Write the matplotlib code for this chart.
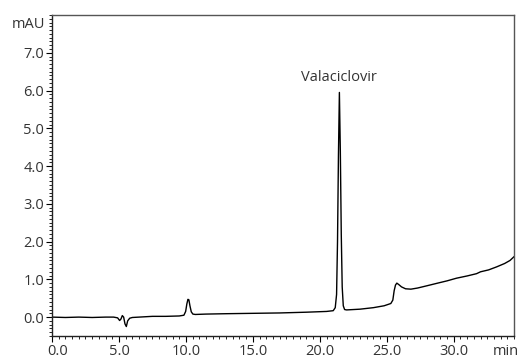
import numpy as np
import matplotlib.pyplot as plt
from matplotlib.ticker import MultipleLocator
import matplotlib.transforms as mtransforms

# ========== 数据 ==========
time_min = [0.0, 1.0, 2.0, 3.0, 4.0, 4.6, 4.9, 5.05, 5.15, 5.25, 5.35, 5.45,
            5.55, 5.65, 5.8, 6.0, 6.5, 7.5, 8.5, 9.5, 9.85, 9.98, 10.07, 10.15,
            10.22, 10.3, 10.4, 10.52, 10.7, 11.5, 13.0, 15.0, 17.0, 19.0, 20.5,
            21.0, 21.15, 21.25, 21.32, 21.39, 21.46, 21.53, 21.6, 21.67, 21.75,
            21.85, 22.0, 23.0, 24.0, 24.8, 25.3, 25.45, 25.55, 25.65, 25.75,
            25.9, 26.1, 26.4, 26.8, 27.3, 28.0, 28.8, 29.5, 30.2, 31.0, 31.7,
            32.0, 32.6, 33.2, 33.8, 34.2, 34.5]
signal_mau = [0.0, -0.01, 0.0, -0.01, 0.0, 0.0, -0.02, -0.09, -0.05, 0.04,
              0.0, -0.18, -0.25, -0.1, -0.03, -0.01, 0.0, 0.02, 0.02, 0.03,
              0.05, 0.15, 0.35, 0.47, 0.46, 0.3, 0.14, 0.08, 0.07, 0.08, 0.09,
              0.1, 0.11, 0.13, 0.15, 0.17, 0.25, 0.6, 2.0, 4.3, 5.95, 4.4, 2.2,
              0.8, 0.3, 0.2, 0.19, 0.21, 0.25, 0.3, 0.36, 0.45, 0.7, 0.85, 0.9,
              0.86, 0.8, 0.75, 0.74, 0.77, 0.83, 0.9, 0.96, 1.03, 1.09, 1.15,
              1.2, 1.25, 1.33, 1.42, 1.5, 1.6]

peak_name = 'Valaciclovir'
peak_time = 21.46
peak_label_y = 6.35

x_ticks = [0, 5, 10, 15, 20, 25, 30]
y_ticks = [0, 1, 2, 3, 4, 5, 6, 7]

# ========== 绘图 ==========
plt.rcParams['font.family'] = ['Open Sans', 'DejaVu Sans']
text_color = '#333333'
fs = 10.5

fig = plt.figure(figsize=(5.2, 3.58), dpi=100)
ax = fig.add_axes([0.1, 0.0615, 0.8885, 0.8965])

ax.plot(time_min, signal_mau, color='black', lw=1.0)

ax.set_xlim(0, 34.5)
ax.set_ylim(-0.5, 8.0)

ax.set_xticks(x_ticks)
ax.set_xticklabels([f'{v:.1f}' for v in x_ticks])
ax.set_yticks(y_ticks)
ax.set_yticklabels([f'{v:.1f}' for v in y_ticks])
ax.xaxis.set_minor_locator(MultipleLocator(0.5))
ax.yaxis.set_minor_locator(MultipleLocator(0.1))

ax.tick_params(axis='both', which='major', direction='out', length=4,
               width=0.8, labelsize=fs, labelcolor=text_color, pad=1.5)
ax.tick_params(axis='both', which='minor', direction='out', length=2,
               width=0.6)

for s in ['left', 'bottom']:
    ax.spines[s].set_color('#222222')
    ax.spines[s].set_linewidth(1.0)
for s in ['top', 'right']:
    ax.spines[s].set_color('#555555')
    ax.spines[s].set_linewidth(1.0)

# 第一个刻度标签稍向右
lab0 = ax.get_xticklabels()[0]
lab0.set_transform(lab0.get_transform() +
                   mtransforms.ScaledTranslation(6 / 100, 0, fig.dpi_scale_trans))

ax.text(peak_time, peak_label_y, peak_name, ha='center', va='center',
        fontsize=fs, color=text_color)

fig.text(45 / 520, 1 - 24 / 358, 'mAU', ha='right', va='center',
         fontsize=fs, color=text_color)
# 单位与刻度标签同一行
ax.annotate('min', xy=(1, 0), xycoords='axes fraction', xytext=(-6, -5.5),
            textcoords='offset points', ha='center', va='top',
            fontsize=fs, color=text_color)

fig.savefig('out.png', dpi=100)
